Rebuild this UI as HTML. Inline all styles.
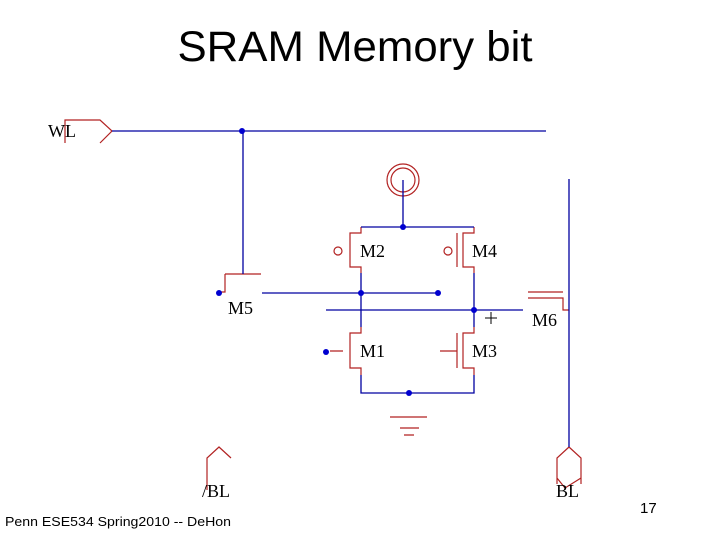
<!DOCTYPE html>
<html><head><style>
html,body{margin:0;padding:0;background:#fff;}
body{width:720px;height:540px;position:relative;overflow:hidden;font-family:"Liberation Sans",sans-serif;}
</style></head><body>
<svg width="720" height="540" viewBox="0 0 720 540" xmlns="http://www.w3.org/2000/svg" style="position:absolute;left:0;top:0">
<text x="355" y="61" font-family="Liberation Sans" font-size="43" text-anchor="middle" fill="#000" textLength="355" lengthAdjust="spacingAndGlyphs">SRAM Memory bit</text>
<g fill="none" stroke="#b22222" stroke-width="1.2">
 <path d="M65,143 V120 H100 L112,131 L100,143"/>
 <path d="M225,274 H261 M225,274 V292 H219"/>
 <path d="M528,292 H563 M528,298 H563 V310 H569"/>
 <circle cx="403" cy="180" r="16"/>
 <circle cx="403" cy="180" r="12"/>
 <path d="M361,227 V233 H350 V267 H361 V273"/>
 <circle cx="338" cy="251" r="4"/>
 <path d="M474,227 V233 H463 V267 H474 V273 M457,233 V267"/>
 <circle cx="448" cy="251" r="4"/>
 <path d="M361,327 V333 H350 V368 H361 V375 M343,351 H330"/>
 <path d="M474,327 V333 H463 V368 H474 V375 M457,333 V368 M440,351 H457"/>
 <path d="M390,417 H427 M400,428 H419 M404,435 H414"/>
 <path d="M207,490 V458 L219,447 L231,458"/>
 <path d="M557,484 V458 L569,447 L581,458 V484 M557,478 L565,488 L581,478"/>
</g>
<g fill="none" stroke="#0000a0" stroke-width="1.3">
 <path d="M112,131 H546"/>
 <path d="M243,131 V274"/>
 <path d="M262,293 H438"/>
 <path d="M326,310 H523"/>
 <path d="M569,179 V447"/>
 <path d="M403,180 V227 M361,227 H474"/>
 <path d="M361,273 V327 M474,273 V327"/>
 <path d="M361,375 V393 H474 V375"/>
</g>
<g fill="#0000d0">
 <circle cx="242" cy="131" r="3"/>
 <circle cx="219" cy="293" r="3"/>
 <circle cx="361" cy="293" r="3"/>
 <circle cx="438" cy="293" r="3"/>
 <circle cx="474" cy="310" r="3"/>
 <circle cx="403" cy="227" r="3"/>
 <circle cx="326" cy="352" r="3"/>
 <circle cx="409" cy="393" r="3"/>
</g>
<path d="M485,318 H497 M491,312 V324" stroke="#000" stroke-width="1"/>
<g font-family="Liberation Serif" font-size="18" fill="#000">
 <text x="48" y="137">WL</text>
 <text x="360" y="257">M2</text>
 <text x="472" y="257">M4</text>
 <text x="228" y="314">M5</text>
 <text x="532" y="326">M6</text>
 <text x="360" y="357">M1</text>
 <text x="472" y="357">M3</text>
 <text x="202" y="497">/BL</text>
 <text x="556" y="497">BL</text>
</g>
<text x="5" y="526" font-size="13" fill="#000" textLength="226" lengthAdjust="spacingAndGlyphs">Penn ESE534 Spring2010 -- DeHon</text>
<text x="640" y="513" font-size="15" fill="#000">17</text>
</svg>
</body></html>
